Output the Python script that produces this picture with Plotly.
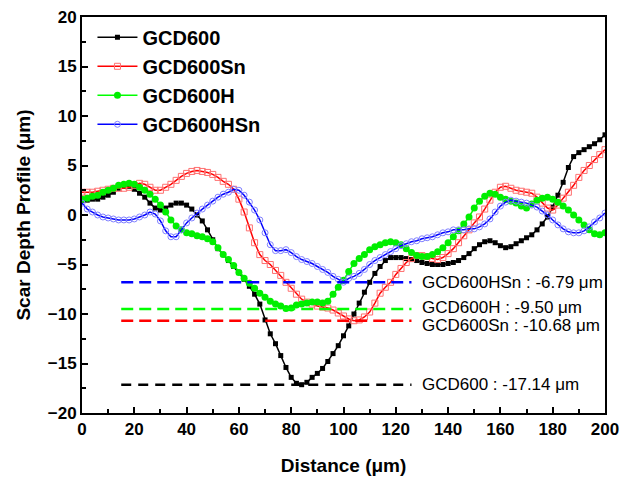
import plotly.graph_objects as go

x = list(range(0, 201, 2))

gcd600 = [1.5, 1.5, 1.6, 1.6, 1.8, 2.0, 2.3, 2.7, 2.9, 2.9, 2.6, 2.2, 1.8, 1.2, 0.7, 0.5,
          0.7, 1.0, 1.2, 1.2, 1.0, 0.6, 0.0, -0.6, -1.5, -2.5, -3.4, -4.0, -4.6, -5.2, -5.8,
          -6.5, -7.2, -8.0, -9.0, -10.6, -12.0, -13.0, -14.2, -15.4, -16.4, -17.0, -17.14,
          -16.9, -16.4, -16.0, -15.5, -14.8, -14.0, -13.2, -12.2, -11.2, -10.0, -8.9, -7.8,
          -6.8, -5.9, -5.2, -4.6, -4.3, -4.3, -4.3, -4.4, -4.5, -4.6, -4.8, -4.9, -5.0, -5.0,
          -5.0, -4.9, -4.8, -4.6, -4.3, -3.9, -3.4, -3.0, -2.7, -2.6, -2.8, -3.1, -3.3, -3.2,
          -2.9, -2.6, -2.3, -2.0, -1.5, -0.9, -0.2, 0.8, 2.0, 3.3, 4.8, 5.9, 6.3, 6.6, 6.9,
          7.2, 7.6, 8.1]

gcd600sn = [2.3, 2.3, 2.3, 2.4, 2.5, 2.6, 2.7, 2.7, 2.7, 2.8, 3.0, 3.2, 3.1, 2.8, 2.5, 2.5,
            2.8, 3.1, 3.5, 3.9, 4.2, 4.4, 4.5, 4.4, 4.3, 4.1, 3.8, 3.4, 3.1, 2.6, 1.6, 0.3,
            -1.3, -2.8, -4.0, -4.6, -5.0, -5.6, -6.1, -6.8, -7.4, -8.0, -8.5, -8.8, -9.0,
            -9.2, -9.3, -9.4, -9.6, -9.9, -10.2, -10.5, -10.68, -10.6, -10.3, -9.8, -8.9,
            -7.9, -7.3, -6.8, -6.0, -5.4, -4.8, -4.4, -4.1, -4.1, -4.2, -4.4, -4.5, -4.3,
            -3.9, -3.4, -2.8, -2.1, -1.5, -0.8, -0.2, 0.6, 1.5, 2.3, 2.8, 2.9, 2.7, 2.5, 2.4,
            2.3, 2.2, 1.8, 1.2, 0.7, 0.5, 1.0, 1.7, 2.3, 3.0, 3.8, 4.5, 5.0, 5.6, 6.1, 6.6]

gcd600h = [1.6, 1.7, 1.9, 2.0, 2.3, 2.5, 2.7, 3.0, 3.1, 3.2, 3.1, 2.8, 2.5, 2.1, 1.6, 1.0,
           0.3, -0.5, -1.1, -1.5, -1.8, -1.9, -2.1, -2.2, -2.4, -2.7, -3.3, -4.0, -4.5, -5.1,
           -5.8, -6.4, -6.9, -7.4, -7.9, -8.3, -8.7, -9.0, -9.2, -9.45, -9.4, -9.1, -9.0,
           -8.9, -8.8, -8.8, -8.9, -8.7, -8.0, -7.3, -6.6, -5.7, -4.9, -4.4, -4.0, -3.5,
           -3.2, -3.0, -2.8, -2.7, -2.8, -3.0, -3.4, -3.8, -4.1, -4.2, -4.2, -4.0, -3.7,
           -3.3, -2.8, -2.2, -1.6, -0.9, -0.2, 0.7, 1.4, 1.9, 2.2, 2.1, 1.8, 1.6, 1.4, 1.2,
           0.9, 0.7, 1.1, 1.5, 1.7, 1.8, 1.6, 1.3, 0.9, 0.5, 0.0, -0.5, -1.0, -1.5, -1.9,
           -2.0, -1.8]

gcd600hsn = [1.2, 0.6, 0.3, 0.0, -0.2, -0.3, -0.4, -0.5, -0.5, -0.5, -0.4, -0.2, 0.0, 0.3,
             0.1, -0.6, -1.6, -2.2, -2.2, -1.5, -0.8, -0.3, 0.2, 0.6, 1.0, 1.4, 1.8, 2.1,
             2.3, 2.6, 2.5, 2.0, 1.3, 0.5, -0.5, -1.8, -3.0, -3.6, -3.6, -3.5, -3.8, -4.2,
             -4.5, -4.7, -4.9, -5.2, -5.5, -5.8, -6.2, -6.5, -6.79, -6.4, -6.2, -5.9, -5.5,
             -5.0, -4.6, -4.3, -4.0, -3.7, -3.4, -3.1, -2.9, -2.7, -2.6, -2.4, -2.3, -2.2,
             -2.0, -1.8, -1.7, -1.5, -1.5, -1.5, -1.4, -1.4, -1.2, -0.9, -0.4, 0.3, 0.9, 1.3,
             1.5, 1.4, 1.3, 1.2, 1.0, 0.8, 0.4, 0.0, -0.5, -1.0, -1.4, -1.7, -1.8, -1.8, -1.6,
             -1.2, -0.7, -0.3, 0.2]

depth_names = ["GCD600HSn", "GCD600H", "GCD600Sn", "GCD600"]
depth_values = [-6.79, -9.50, -10.68, -17.14]
depth_colors = ["#0000ff", "#00ff00", "#ff0000", "#000000"]
label_shift = [0, 2, -5, 0]
depth_x = [15, 126]

FONT = "Liberation Sans, Arial, sans-serif"

fig = go.Figure()

fig.add_trace(go.Scatter(x=x, y=gcd600, name="GCD600", mode="lines+markers",
                         line=dict(color="#000000", width=1.5),
                         marker=dict(symbol="square", size=5, color="#000000")))
fig.add_trace(go.Scatter(x=x, y=gcd600sn, name="GCD600Sn", mode="lines+markers",
                         line=dict(color="#ff0000", width=1.5),
                         marker=dict(symbol="square-open", size=6, color="#ff7070",
                                     line=dict(width=1))))
fig.add_trace(go.Scatter(x=x, y=gcd600h, name="GCD600H", mode="lines+markers",
                         line=dict(color="#00ff00", width=1.5),
                         marker=dict(symbol="circle", size=7, color="#00ee00")))
fig.add_trace(go.Scatter(x=x, y=gcd600hsn, name="GCD600HSn", mode="lines+markers",
                         line=dict(color="#0000ff", width=1.5),
                         marker=dict(symbol="circle-open", size=6, color="#8080ff",
                                     line=dict(width=1))))

for name, val, col, sh in zip(depth_names, depth_values, depth_colors, label_shift):
    dash = "10px,7px" if col == "#000000" else "12px,6px"
    fig.add_trace(go.Scatter(x=depth_x, y=[val, val], mode="lines", showlegend=False,
                             hoverinfo="skip",
                             line=dict(color=col, width=2.5, dash=dash)))
    fig.add_annotation(x=depth_x[1] + 3.3, y=val, text=f"{name} : {val:.2f} μm",
                       xanchor="left", yanchor="middle", showarrow=False, yshift=sh,
                       font=dict(family=FONT, size=17, color="#000000"))

fig.update_layout(
    width=626, height=479,
    margin=dict(l=82, r=21, t=17, b=66, autoexpand=False),
    paper_bgcolor="white", plot_bgcolor="white",
    font=dict(family=FONT, color="#000000"),
    showlegend=True,
    legend=dict(x=0.02, y=0.998, xanchor="left", yanchor="top",
                bgcolor="rgba(0,0,0,0)", itemwidth=40,
                font=dict(family=FONT, size=20, weight="bold"),
                tracegroupgap=0),
    xaxis=dict(range=[0, 200], tickmode="linear", tick0=0, dtick=20, automargin=False,
               ticks="inside", ticklen=6, tickwidth=2, tickcolor="#000",
               minor=dict(ticks="inside", ticklen=4, tickwidth=2, dtick=10, tickcolor="#000"),
               showline=True, linewidth=2, linecolor="#000", mirror=True,
               showgrid=False, zeroline=False,
               tickfont=dict(family=FONT, size=17, weight="bold"),
               title=dict(text="Distance (μm)", standoff=20,
                          font=dict(family=FONT, size=19, weight="bold"))),
    yaxis=dict(range=[-20, 20], tickmode="linear", tick0=-20, dtick=5, automargin=False,
               ticks="inside", ticklen=6, tickwidth=2, tickcolor="#000",
               minor=dict(ticks="inside", ticklen=4, tickwidth=2, dtick=2.5, tickcolor="#000"),
               showline=True, linewidth=2, linecolor="#000", mirror=True,
               showgrid=False, zeroline=False,
               tickfont=dict(family=FONT, size=17, weight="bold"),
               title=dict(text="Scar Depth Profile (μm)", standoff=12,
                          font=dict(family=FONT, size=19, weight="bold"))),
)

fig.write_html("out.html", config={"displayModeBar": False},
               post_script="document.body.style.margin='0';")
